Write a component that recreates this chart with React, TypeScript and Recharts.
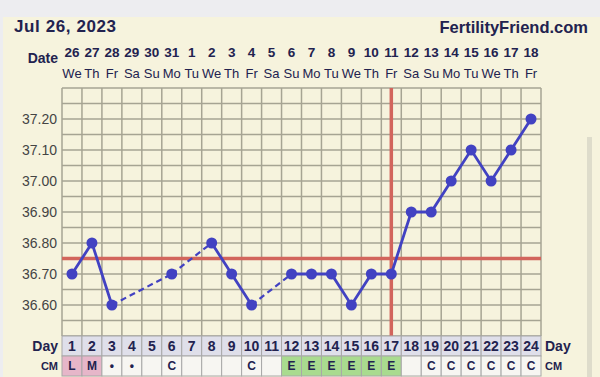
import React from 'react';
import { ComposedChart, Line, XAxis, YAxis, ReferenceLine } from 'recharts';

const days = [1, 2, 3, 4, 5, 6, 7, 8, 9, 10, 11, 12, 13, 14, 15, 16, 17, 18, 19, 20, 21, 22, 23, 24];
const dates = ['26', '27', '28', '29', '30', '31', '1', '2', '3', '4', '5', '6', '7', '8', '9', '10', '11', '12', '13', '14', '15', '16', '17', '18'];
const weekdays = ['We', 'Th', 'Fr', 'Sa', 'Su', 'Mo', 'Tu', 'We', 'Th', 'Fr', 'Sa', 'Su', 'Mo', 'Tu', 'We', 'Th', 'Fr', 'Sa', 'Su', 'Mo', 'Tu', 'We', 'Th', 'Fr'];
const temps: (number | null)[] = [36.7, 36.8, 36.6, null, null, 36.7, null, 36.8, 36.7, 36.6, null, 36.7, 36.7, 36.7, 36.6, 36.7, 36.7, 36.9, 36.9, 37.0, 37.1, 37.0, 37.1, 37.2];
const cervicalMucus = ['L', 'M', '•', '•', '', 'C', '', '', '', 'C', '', 'E', 'E', 'E', 'E', 'E', 'E', '', 'C', 'C', 'C', 'C', 'C', 'C'];
const yTicks = [36.6, 36.7, 36.8, 36.9, 37.0, 37.1, 37.2];
const coverline = 36.75;
const ovulationDay = 17;
const yDomain: [number, number] = [36.5, 37.3];

const NAVY = '#22224f';
const BLUE = '#4242c2';
const RED = '#d2655c';
const GRID = '#a6a493';
const CREAM = '#f6f3dd';
const FONT = '"Liberation Sans", Arial, sans-serif';

const CHART_W = 600;
const CHART_H = 377;
const LEFT_W = 62;
const RIGHT_W = 59;
const COL_W = (CHART_W - LEFT_W - RIGHT_W) / days.length;

// find gaps (runs of missing values) and build bridging series
const gaps: [number, number][] = [];
{
  let last = -1;
  temps.forEach((t, i) => {
    if (t !== null) {
      if (last >= 0 && i - last > 1) gaps.push([last, i]);
      last = i;
    }
  });
}

const data = days.map((d, i) => {
  const row: any = { day: d, temp: temps[i] };
  gaps.forEach(([a, b], k) => {
    row['gap' + k] = i === a || i === b ? temps[i] : null;
  });
  return row;
});

const vGrid: number[] = [];
for (let i = 0; i <= days.length; i++) vGrid.push(0.5 + i);
const hGrid: number[] = [];
for (let i = 0; i <= 16; i++) hGrid.push(Math.round((yDomain[0] + i * 0.05) * 100) / 100);

const TopTick = (props: any) => {
  const { x, y, payload } = props;
  const i = payload.value - 1;
  return (
    <g>
      {i === 0 && (
        <text x={58} y={y - 30} textAnchor="end" dominantBaseline="central" fontFamily={FONT} fontWeight="bold" fontSize={14} fill={NAVY}>
          Date
        </text>
      )}
      <text x={x} y={y - 36} textAnchor="middle" dominantBaseline="central" fontFamily={FONT} fontWeight="bold" fontSize={13.5} fill={NAVY}>
        {dates[i]}
      </text>
      <text x={x} y={y - 15} textAnchor="middle" dominantBaseline="central" fontFamily={FONT} fontSize={13} fill={NAVY}>
        {weekdays[i]}
      </text>
    </g>
  );
};

const cmFill = (v: string) => (v === 'L' || v === 'M' ? '#e6b6c9' : v === 'E' ? '#a9db8f' : '#f7f6f2');

const BottomTick = (props: any) => {
  const { x, y, payload } = props;
  const i = payload.value - 1;
  const v = cervicalMucus[i];
  const last = i === days.length - 1;
  return (
    <g>
      <rect x={x - COL_W / 2} y={y} width={COL_W} height={20} fill="#dfdfea" stroke="#a8a8a8" strokeWidth={1} />
      <text x={x} y={y + 10} textAnchor="middle" dominantBaseline="central" fontFamily={FONT} fontWeight="bold" fontSize={14} fill={NAVY}>
        {days[i]}
      </text>
      <rect x={x - COL_W / 2} y={y + 20} width={COL_W} height={20} fill={cmFill(v)} stroke="#a8a8a8" strokeWidth={1} />
      <text x={x} y={y + 30} textAnchor="middle" dominantBaseline="central" fontFamily={FONT} fontWeight="bold" fontSize={12} fill={NAVY}>
        {v}
      </text>
      {i === 0 && (
        <>
          <text x={58} y={y + 10} textAnchor="end" dominantBaseline="central" fontFamily={FONT} fontWeight="bold" fontSize={14} fill={NAVY}>Day</text>
          <text x={58} y={y + 30} textAnchor="end" dominantBaseline="central" fontFamily={FONT} fontWeight="bold" fontSize={11} fill={NAVY}>CM</text>
        </>
      )}
      {last && (
        <>
          <text x={x + COL_W / 2 + 4} y={y + 10} textAnchor="start" dominantBaseline="central" fontFamily={FONT} fontWeight="bold" fontSize={14} fill={NAVY}>Day</text>
          <text x={x + COL_W / 2 + 4} y={y + 30} textAnchor="start" dominantBaseline="central" fontFamily={FONT} fontWeight="bold" fontSize={11} fill={NAVY}>CM</text>
        </>
      )}
    </g>
  );
};

const fmt = (v: number) => v.toFixed(2);

export default function App() {
  return (
    <div style={{ position: 'absolute', left: 0, top: 0, width: CHART_W, height: CHART_H, background: '#ededf0', overflow: 'hidden' }}>
      <div style={{ position: 'absolute', left: 3, top: 17, width: 597, height: 360, background: CREAM }} />
      <div style={{ position: 'absolute', left: 587, top: 137, width: 5, height: 240, background: '#dedccb' }} />
      <div style={{ position: 'absolute', left: 14, top: 16, fontFamily: FONT, fontWeight: 'bold', fontSize: 17, letterSpacing: 0.6, color: NAVY, lineHeight: '22px' }}>
        Jul 26, 2023
      </div>
      <div style={{ position: 'absolute', right: 12, top: 16, fontFamily: FONT, fontWeight: 'bold', fontSize: 16.5, color: NAVY, lineHeight: '22px' }}>
        FertilityFriend.com
      </div>
      <div style={{ position: 'absolute', left: 0, top: 0 }}>
        <ComposedChart width={CHART_W} height={CHART_H} data={data} margin={{ top: 0, right: 0, bottom: 0, left: 0 }}>
          <XAxis xAxisId="top" orientation="top" type="number" dataKey="day" domain={[0.5, 24.5]} ticks={days} interval={0} height={88} axisLine={false} tickLine={false} tickSize={0} tickMargin={0} tick={<TopTick />} />
          <XAxis type="number" dataKey="day" domain={[0.5, 24.5]} ticks={days} interval={0} height={41} axisLine={false} tickLine={false} tickSize={0} tickMargin={0} tick={<BottomTick />} />
          <YAxis type="number" domain={yDomain} ticks={yTicks} width={LEFT_W} axisLine={false} tickLine={false} tickSize={0} tickMargin={5} tickFormatter={fmt} tick={{ fill: '#444444', fontSize: 14, fontFamily: FONT }} />
          <YAxis yAxisId="right" orientation="right" type="number" domain={yDomain} ticks={yTicks} width={RIGHT_W} axisLine={false} tickLine={false} tickSize={0} tickMargin={4} tickFormatter={fmt} tick={{ fill: '#444444', fontSize: 14, fontFamily: FONT }} />
          {hGrid.map((v) => (
            <ReferenceLine key={'h' + v} y={v} stroke={GRID} strokeWidth={1.5} />
          ))}
          {vGrid.map((v) => (
            <ReferenceLine key={'v' + v} x={v} stroke={GRID} strokeWidth={1.5} />
          ))}
          <ReferenceLine y={coverline} stroke={RED} strokeWidth={3.5} />
          <ReferenceLine x={ovulationDay} stroke={RED} strokeWidth={3.5} />
          {gaps.map((g, k) => (
            <Line key={'gap' + k} dataKey={'gap' + k} connectNulls stroke={BLUE} strokeWidth={2.2} strokeDasharray="6 4" dot={false} activeDot={false} isAnimationActive={false} />
          ))}
          <Line dataKey="temp" connectNulls={false} stroke={BLUE} strokeWidth={2.8} dot={{ r: 5.5, fill: BLUE, stroke: BLUE, strokeWidth: 0 }} activeDot={false} isAnimationActive={false} />
        </ComposedChart>
      </div>
    </div>
  );
}
